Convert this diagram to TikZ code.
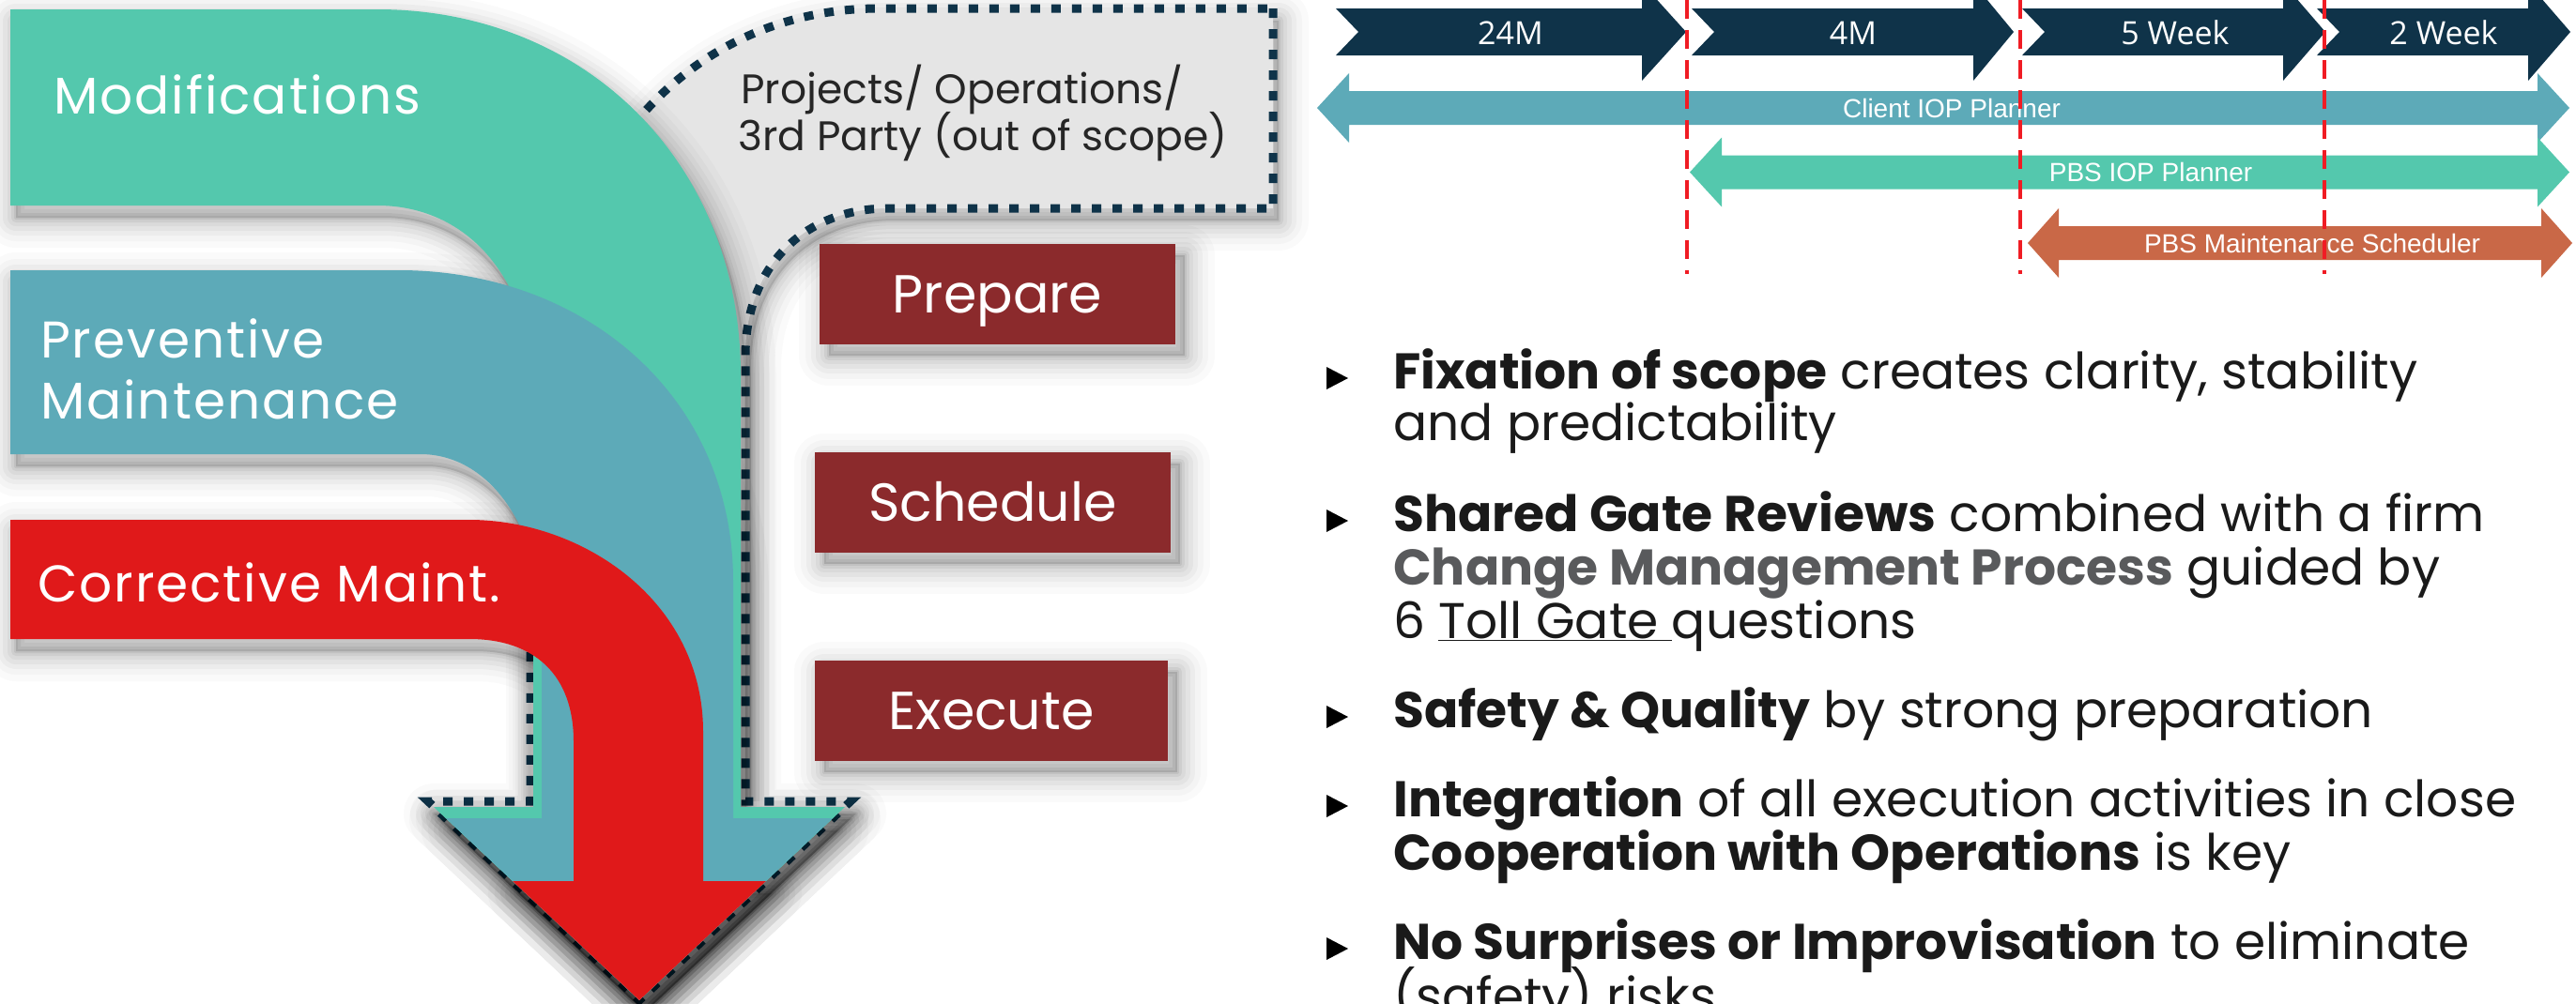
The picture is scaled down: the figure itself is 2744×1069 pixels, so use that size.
\documentclass[tikz,border=0pt]{standalone}
\usepackage{fontspec}
\newfontfamily\pop{Poppins}
\newfontfamily\popw{Poppins}[LetterSpace=3.5]
\newfontfamily\osans{Open Sans}
\newfontfamily\lsans{Liberation Sans}
\usetikzlibrary{calc}
\definecolor{mint}{HTML}{54C8AD}
\definecolor{tealb}{HTML}{5DAAB8}
\definecolor{redb}{HTML}{E0191A}
\definecolor{lgray}{HTML}{E5E5E5}
\definecolor{navy}{HTML}{0F3349}
\definecolor{maroon}{HTML}{8B2A2C}
\definecolor{orangeb}{HTML}{C96847}
\definecolor{dashred}{HTML}{F01C24}
\definecolor{boldgray}{HTML}{595A5C}
\definecolor{txt}{HTML}{1A1A1A}
\definecolor{projtxt}{HTML}{262626}

\newcommand\softshadow[2][6,13]{%
  \begin{scope}[shift={(#1)}]
    \foreach \ww/\oo in {64/0.02,50/0.025,38/0.03,28/0.035,18/0.04,10/0.05,4/0.06}{%
      \draw[black,opacity=\oo,line width=\ww pt,line join=round] #2;}
    \fill[black,opacity=0.12] #2;
  \end{scope}}
\newcommand\chev[3]{%
  \fill[navy] (#1,9) -- (#2,9) -- (#2,-18) -- (#3,34) -- (#2,86) -- (#2,59) -- (#1,59) -- ({#1+24},34) -- cycle;}
\newcommand\dblarrow[6]{%
  \fill[#1] (#2,#6) -- (#3,{#6-37}) -- (#3,{#6-18}) -- (#4,{#6-18}) -- (#4,{#6-37}) -- (#5,#6)
    -- (#4,{#6+37}) -- (#4,{#6+18}) -- (#3,{#6+18}) -- (#3,{#6+37}) -- cycle;}
\newcommand\bul[1]{\fill[black] (1413,{#1-23}) -- (1436,{#1-11}) -- (1413,{#1+1}) -- cycle;}

% shapes of the flow arrows
\newcommand\pGray{(1356,9) -- (1356,222) -- (947,222) .. controls (860,222) and (794,280) .. (794,380) -- (794,854) -- (906,854) -- (681,1066) -- (456,854) -- (565,854) -- (565,520) .. controls (565,150) and (750,9) .. (937,9) -- cycle}
\newcommand\pGreen{(11,10) -- (402,10) .. controls (620,10) and (789,170) .. (789,400) -- (789,860) -- (900,860) -- (681,1066) -- (462,860) -- (568,860) -- (568,420) .. controls (568,300) and (500,219) .. (402,219) -- (11,219) -- cycle}
\newcommand\pTeal{(11,288) -- (425,288) .. controls (620,288) and (781,420) .. (781,620) -- (781,872) -- (887,872) -- (681,1066) -- (475,872) -- (577,872) -- (577,672) .. controls (577,560) and (520,484) .. (448,484) -- (11,484) -- cycle}
\newcommand\pRed{(11,554) -- (500,554) .. controls (620,554) and (749,640) .. (749,780) -- (749,939) -- (816,939) -- (681,1066) -- (546,939) -- (611,939) -- (611,790) .. controls (611,720) and (570,681) .. (500,681) -- (11,681) -- cycle}

\begin{document}
\begin{tikzpicture}[x=1pt,y=-1pt,
  bandlbl/.style={font=\popw\fontsize{55}{62}\selectfont, text=white, anchor=base west, inner sep=0pt},
  projlbl/.style={font=\pop\fontsize{44}{50}\selectfont, text=projtxt, anchor=base west, inner sep=0pt},
  stepbox/.style={fill=maroon, text=white, font=\pop\fontsize{57}{60}\selectfont,
     minimum width=379pt, minimum height=107pt, inner sep=0pt, text height=40pt, text depth=0pt},
  chtxt/.style={font=\osans\fontsize{34}{36}\selectfont, text=white, anchor=base, inner sep=0pt},
  artxt/.style={font=\lsans\fontsize{28}{30}\selectfont, text=white, inner sep=0pt, text height=20pt, text depth=0pt},
  btxt/.style={font=\pop\fontsize{53.5}{56}\selectfont, text=txt, anchor=base west, inner sep=0pt},
  reddash/.style={draw=dashred, line width=4pt, dash pattern=on 20pt off 12pt},
  dotline/.style={draw=navy, line width=9pt, dash pattern=on 10pt off 12pt}
]
\useasboundingbox (0,0) rectangle (2744,1069);
\clip (0,0) rectangle (2744,1069);
\fill[white] (0,0) rectangle (2744,1069);

% ---------- left flow arrows ----------
\softshadow{\pGray}
\path[fill=lgray] \pGray;
\path[dotline] \pGray;
\softshadow{\pGreen}
\softshadow{\pTeal}
\softshadow{\pRed}
\fill[mint] \pGreen;
\fill[tealb] \pTeal;
\fill[redb] \pRed;

\node[bandlbl] (modif) at (57,121) {Modifications};
\node[bandlbl] (prev1) at (43,381) {Preventive};
\node[bandlbl] (prev2) at (43,446) {Maintenance};
\node[bandlbl] (corr) at (40,641) {Corrective Maint.};
\node[projlbl] (proj1) at (789,110) {Projects/ Operations/};
\node[projlbl] (proj2) at (786,160) {3rd Party (out of scope)};

% ---------- step boxes ----------
\softshadow[10,12]{(873,260) rectangle (1252,367)}
\softshadow[10,12]{(868,482) rectangle (1247,589)}
\softshadow[10,12]{(868,704) rectangle (1244,811)}
\node[stepbox] (prep) at (1062.5,313.5) {Prepare};
\node[stepbox] (sched) at (1057.5,535.5) {Schedule};
\node[stepbox, minimum width=376pt] (exec) at (1056,757.5) {Execute};

% ---------- timeline ----------
\chev{1423}{1749}{1796}
\chev{1802}{2102}{2145}
\chev{2154}{2432}{2477}
\chev{2468}{2693}{2738}
\node[chtxt] (c24) at (1609,47) {24M};
\node[chtxt] (c4) at (1974,47) {4M};
\node[chtxt] (c5w) at (2317,47) {5 Week};
\node[chtxt] (c2w) at (2603,47) {2 Week};

\dblarrow{tealb}{1403}{1437}{2703}{2737}{115}
\dblarrow{mint}{1800}{1834}{2703}{2737}{183.5}
\dblarrow{orangeb}{2160}{2193}{2707}{2740}{259}
\node[artxt] (aclient) at (2079,115) {Client IOP Planner};
\node[artxt] (apbs) at (2291,183.5) {PBS IOP Planner};
\node[artxt] (amaint) at (2463,259) {PBS Maintenance Scheduler};

\coordinate (d1t) at (1797,0); \coordinate (d1b) at (1797,292);
\coordinate (d2t) at (2152,0); \coordinate (d2b) at (2152,292);
\coordinate (d3t) at (2476,0); \coordinate (d3b) at (2476,292);
\draw[reddash] (d1t) -- (d1b);
\draw[reddash] (d2t) -- (d2b);
\draw[reddash] (d3t) -- (d3b);

% ---------- bullets ----------
\bul{414}\bul{566}\bul{775}\bul{870}\bul{1022}
\node[btxt] (l1a) at (1484,414) {{\bfseries Fixation of scope} creates clarity, stability};
\node[btxt] (l1b) at (1484,469) {and predictability};
\node[btxt] (l2a) at (1484,566) {{\bfseries Shared Gate Reviews} combined with a firm};
\node[btxt] (l2b) at (1484,623) {\textcolor{boldgray}{\bfseries Change Management Process} guided by};
\node[btxt] (l2c) at (1484,680) {6 \underline{Toll Gate }questions};
\node[btxt] (l3a) at (1484,775) {{\bfseries Safety \& Quality} by strong preparation};
\node[btxt] (l4a) at (1484,870) {{\bfseries Integration} of all execution activities in close};
\node[btxt] (l4b) at (1484,927) {{\bfseries Cooperation with Operations} is key};
\node[btxt] (l5a) at (1484,1022) {{\bfseries No Surprises or Improvisation} to eliminate};
\node[btxt] (l5b) at (1484,1080) {(safety) risks};
\end{tikzpicture}
\end{document}
